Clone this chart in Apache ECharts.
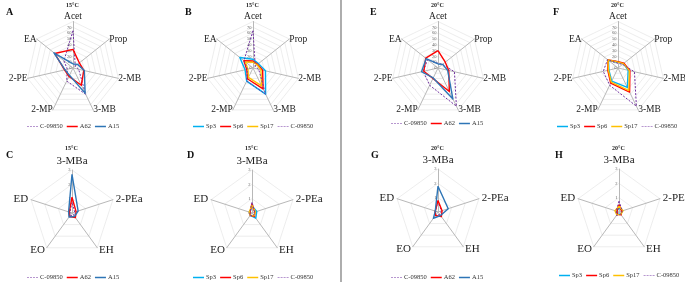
<!DOCTYPE html>
<html>
<head>
<meta charset="utf-8">
<script src="https://cdn.jsdelivr.net/npm/echarts@6/dist/echarts.min.js"></script>
<style>
html, body { margin: 0; padding: 0; background: #fff; }
#main { width: 685px; height: 282px; }
</style>
</head>
<body>
<div id="main"></div>
<script>
// axes of the two kinds of radar (clockwise from the top)
var acidAxes = ['Acet', 'Prop', '2-MB', '3-MB', '2-MP', '2-PE', 'EA'];
var esterAxes = ['3-MBa', '2-PEa', 'EH', 'EO', 'ED'];
var acidTicks = [0, 10, 20, 30, 40, 50, 60, 70];
var acidMax = 80; // outer ring, label hidden under the axis name
var esterTicks = [0, 1, 2, 3];
var esterMax = 3;

// 15°C acids (A, B)
var c09850_15_acid = [64, 5, 10, 50, 25, 10, 20];
var a62_15_acid = [32, 14, 19, 33, 16, 15, 40];
var a15_15_acid = [7, 10, 20, 48, 14, 14, 42];
var sp3_15_acid = [15, 12, 22, 50, 25, 14, 29];
var sp6_15_acid = [12, 10, 17, 40, 21, 11, 20];
var sp17_15_acid = [10, 9, 14, 34, 18, 9, 17];

// 20°C acids (E, F)
var c09850_20_acid = [8, 10, 29, 73, 33, 26, 23];
var a62_20_acid = [30, 16, 19, 45, 20, 25, 27];
var a15_20_acid = [7, 10, 17, 59, 19, 29, 26];
var sp3_20_acid = [10, 12, 18, 37, 25, 16, 21];
var sp6_20_acid = [11, 13, 21, 46, 29, 18, 22];
var sp17_20_acid = [10, 12, 20, 43, 27, 17, 22];

// 15°C esters (C, D)
var c09850_15_ester = [0.75, 0.2, 0.2, 0.25, 0.15];
var a62_15_ester = [1.1, 0.3, 0.4, 0.3, 0.2];
var a15_15_ester = [2.7, 0.45, 0.3, 0.35, 0.25];
var sp3_15_ester = [0.5, 0.35, 0.45, 0.2, 0.15];
var sp6_15_ester = [0.65, 0.2, 0.3, 0.2, 0.15];
var sp17_15_ester = [0.55, 0.25, 0.25, 0.2, 0.2];

// 20°C esters (G, H)
var c09850_20_ester = [0.75, 0.25, 0.2, 0.3, 0.2];
var a62_20_ester = [0.8, 0.3, 0.4, 0.3, 0.2];
var a15_20_ester = [1.8, 0.75, 0.3, 0.55, 0.2];
var sp3_20_ester = [0.3, 0.25, 0.2, 0.2, 0.15];
var sp6_20_ester = [0.5, 0.2, 0.25, 0.2, 0.15];
var sp17_20_ester = [0.4, 0.3, 0.2, 0.25, 0.3];

var colors = {
  'C-09850': '#7030A0',
  'A62': '#FF0000',
  'A15': '#2E75B6',
  'Sp3': '#00B0F0',
  'Sp6': '#FF0000',
  'Sp17': '#FFC000'
};
var dashIcon = 'path://M0,0h3v1h-3z M4.5,0h3v1h-3z M9,0h3v1h-3z M13.5,0h3v1h-3z';

var serif = 'Liberation Serif';
var dom = document.getElementById('main');
var myChart = echarts.init(dom, null, { renderer: 'canvas' });

// echarts lays indicators out counter-clockwise, excel goes clockwise
function cw(arr) {
  return [arr[0]].concat(arr.slice(1).reverse());
}

var panels = [
  { temp: '15°C', center: [73, 68], acid: true,
    series: [['C-09850', c09850_15_acid], ['A62', a62_15_acid], ['A15', a15_15_acid]],
    legendLeft: 27, legendTop: 123 },
  { temp: '15°C', center: [253, 68], acid: true,
    series: [['Sp3', sp3_15_acid], ['Sp6', sp6_15_acid], ['Sp17', sp17_15_acid], ['C-09850', c09850_15_acid]],
    legendLeft: 193, legendTop: 123 },
  { temp: '20°C', center: [438, 68], acid: true,
    series: [['C-09850', c09850_20_acid], ['A62', a62_20_acid], ['A15', a15_20_acid]],
    legendLeft: 391, legendTop: 120 },
  { temp: '20°C', center: [618, 68], acid: true,
    series: [['Sp3', sp3_20_acid], ['Sp6', sp6_20_acid], ['Sp17', sp17_20_acid], ['C-09850', c09850_20_acid]],
    legendLeft: 557, legendTop: 123 },
  { temp: '15°C', center: [72, 213], acid: false,
    series: [['C-09850', c09850_15_ester], ['A62', a62_15_ester], ['A15', a15_15_ester]],
    legendLeft: 27, legendTop: 274 },
  { temp: '15°C', center: [252, 213], acid: false,
    series: [['Sp3', sp3_15_ester], ['Sp6', sp6_15_ester], ['Sp17', sp17_15_ester], ['C-09850', c09850_15_ester]],
    legendLeft: 193, legendTop: 274 },
  { temp: '20°C', center: [438, 212], acid: false,
    series: [['C-09850', c09850_20_ester], ['A62', a62_20_ester], ['A15', a15_20_ester]],
    legendLeft: 391, legendTop: 274 },
  { temp: '20°C', center: [619, 212], acid: false,
    series: [['Sp3', sp3_20_ester], ['Sp6', sp6_20_ester], ['Sp17', sp17_20_ester], ['C-09850', c09850_20_ester]],
    legendLeft: 559, legendTop: 272 }
];

var radars = [], series = [], legends = [], texts = [];

panels.forEach(function (p, idx) {
  var axes = cw(p.acid ? acidAxes : esterAxes);
  var ticks = p.acid ? acidTicks : esterTicks;
  var max = p.acid ? acidMax : esterMax;
  radars.push({
    center: p.center,
    radius: p.acid ? 46.5 : 43,
    startAngle: 90,
    shape: 'polygon',
    splitNumber: p.acid ? acidMax / 10 : esterMax,
    indicator: axes.map(function (name, i) {
      return i === 0
        ? { name: name, min: 0, max: max, axisLabel: { show: true } }
        : { name: name, min: 0, max: max, axisLabel: { show: false } };
    }),
    nameGap: p.acid ? 0 : 3,
    axisName: {
      color: '#222',
      fontFamily: serif,
      fontSize: p.acid ? 9.5 : 11
    },
    axisLine: { lineStyle: { color: '#b8b8b8', width: 1 } },
    splitLine: { lineStyle: { color: '#e8e8e8', width: 0.8 } },
    splitArea: { show: false },
    axisTick: { show: false },
    axisLabel: {
      color: '#666',
      fontSize: 4.5,
      fontFamily: serif,
      margin: 1.5,
      formatter: function (v) {
        return ticks.indexOf(v) >= 0 ? String(v) : '';
      }
    }
  });
  p.series.forEach(function (s) {
    var dashed = s[0] === 'C-09850';
    series.push({
      type: 'radar',
      radarIndex: idx,
      name: s[0],
      symbol: 'none',
      silent: true,
      itemStyle: { color: colors[s[0]] },
      lineStyle: {
        color: colors[s[0]],
        width: dashed ? 1 : 1.4,
        type: dashed ? [2, 1.5] : 'solid'
      },
      data: [{ value: cw(s[1]), name: s[0] }]
    });
  });
  legends.push({
    left: p.legendLeft,
    top: p.legendTop,
    width: 200,
    padding: 0,
    orient: 'horizontal',
    itemWidth: 11,
    itemHeight: 1.5,
    itemGap: 4,
    selectedMode: false,
    textStyle: { fontFamily: serif, fontSize: 6.5, color: '#333', padding: [0, 0, 0, -3] },
    data: p.series.map(function (s) {
      return { name: s[0], icon: s[0] === 'C-09850' ? dashIcon : 'rect' };
    })
  });
  var top = p.center[1] < 140;
  texts.push({
    type: 'text',
    left: p.center[0] - 7,
    top: top ? 2 : 145,
    style: { text: p.temp, font: 'bold 6px ' + serif, fill: '#222' }
  });
});

var letterPos = [
  ['A', 6, 7], ['B', 185, 7], ['E', 370, 7], ['F', 553, 7],
  ['C', 6, 150], ['D', 187, 150], ['G', 371, 150], ['H', 555, 150]
];
letterPos.forEach(function (l) {
  texts.push({
    type: 'text', left: l[1], top: l[2],
    style: { text: l[0], font: 'bold 10px ' + serif, fill: '#111' }
  });
});
texts.push({
  type: 'line',
  shape: { x1: 341, y1: 0, x2: 341, y2: 282 },
  style: { stroke: '#777', lineWidth: 1.2 }
});

var option = {
  backgroundColor: '#fff',
  animation: false,
  radar: radars,
  legend: legends,
  graphic: texts,
  series: series
};
myChart.setOption(option);
</script>
</body>
</html>
